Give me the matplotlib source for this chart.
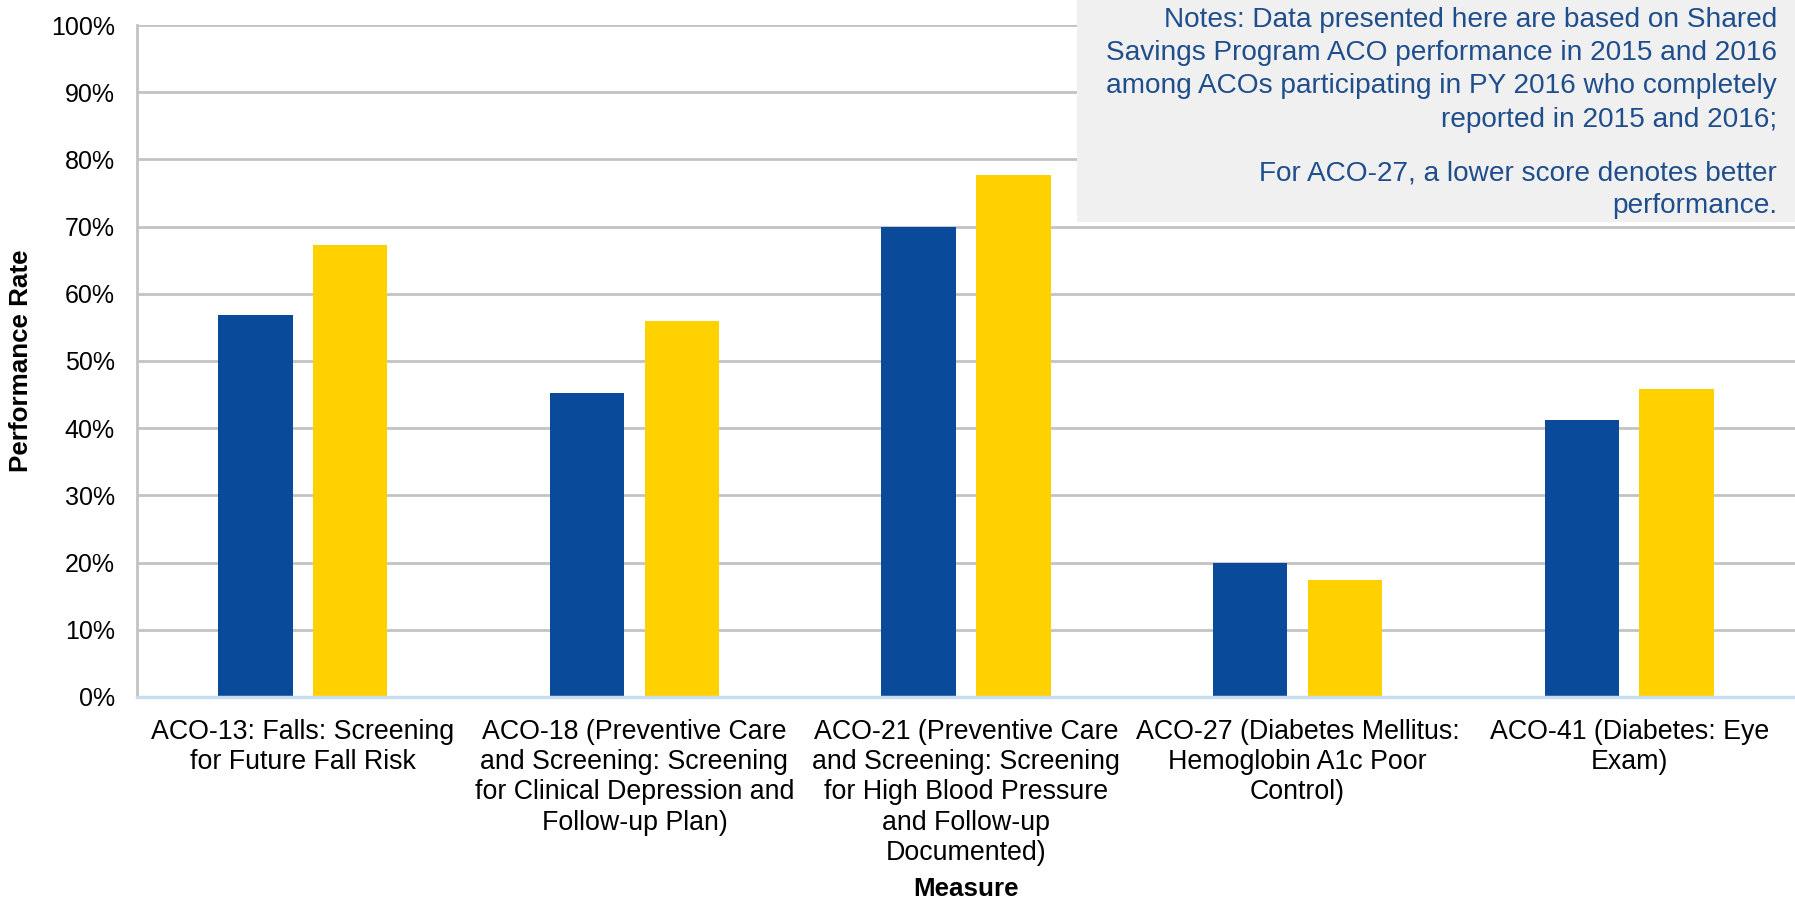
import matplotlib
matplotlib.use("Agg")
import matplotlib.pyplot as plt
import numpy as np
from matplotlib.patches import Rectangle

plt.rcParams['font.family'] = ['Liberation Sans', 'DejaVu Sans']

categories = [
    "ACO-13: Falls: Screening\nfor Future Fall Risk",
    "ACO-18 (Preventive Care\nand Screening: Screening\nfor Clinical Depression and\nFollow-up Plan)",
    "ACO-21 (Preventive Care\nand Screening: Screening\nfor High Blood Pressure\nand Follow-up\nDocumented)",
    "ACO-27 (Diabetes Mellitus:\nHemoglobin A1c Poor\nControl)",
    "ACO-41 (Diabetes: Eye\nExam)",
]
series_names = ["2015", "2016"]
values_2015 = [56.9, 45.3, 70.0, 20.0, 41.2]
values_2016 = [67.3, 55.9, 77.7, 17.4, 45.8]
yticks = [0, 10, 20, 30, 40, 50, 60, 70, 80, 90, 100]
ytick_labels = [f"{t}%" for t in yticks]
notes_p1 = ("Notes: Data presented here are based on Shared\n"
            "Savings Program ACO performance in 2015 and 2016\n"
            "among ACOs participating in PY 2016 who completely\n"
            "reported in 2015 and 2016;")
notes_p2 = "For ACO-27, a lower score denotes better\nperformance."

W, H = 1795, 901
fig = plt.figure(figsize=(W / 100, H / 100), dpi=100)
ax = fig.add_axes([137 / W, (H - 697) / H, (1795 - 137) / W, (697 - 25) / H])

x = np.arange(len(categories))
bw = 0.224
off = 0.143
ax.bar(x - off, values_2015, width=bw, color="#0A4A9A", label=series_names[0], zorder=3)
ax.bar(x + off, values_2016, width=bw, color="#FFD100", label=series_names[1], zorder=3)

ax.set_xlim(-0.5, len(categories) - 0.5)
ax.set_ylim(0, 100)
ax.set_yticks(yticks)
ax.set_yticklabels(ytick_labels)
ax.set_xticks(x)
ax.set_xticklabels(categories, linespacing=1.22)
ax.tick_params(axis='y', length=0, pad=16, labelsize=18.0, labelcolor='#000000')
ax.tick_params(axis='x', length=0, pad=15.5, labelsize=19.3, labelcolor='#000000')
ax.yaxis.grid(True, color="#C3C3C3", linewidth=2, zorder=0)
ax.set_axisbelow(True)
for s in ['top', 'right']:
    ax.spines[s].set_visible(False)
ax.spines['left'].set_color("#C3C3C3")
ax.spines['left'].set_linewidth(2)
ax.spines['bottom'].set_color("#C9DDF0")
ax.spines['bottom'].set_linewidth(2.5)
ax.spines['bottom'].set_zorder(4)

ax.set_ylabel("Performance Rate", fontsize=18.7, fontweight='bold')
ax.yaxis.set_label_coords(-(137 - 33) / (1795 - 137), 0.5)
ax.set_xlabel("Measure", fontsize=18.7, fontweight='bold')
ax.xaxis.set_label_coords(0.5, -(877 - 697) / (697 - 25))

# notes box
fig.patches.append(Rectangle((1077 / W, (H - 222) / H), (W - 1077) / W, 222 / H,
                             transform=fig.transFigure, facecolor="#F0F0F0",
                             edgecolor='none', zorder=5))
fig.text(1777 / W, (H - 7) / H, notes_p1, ha='right', va='top', fontsize=20.2,
         color="#1F4E8C", linespacing=1.36, zorder=6)
fig.text(1777 / W, (H - 160) / H, notes_p2, ha='right', va='top', fontsize=20.2,
         color="#1F4E8C", linespacing=1.36, zorder=6)

fig.savefig("out.png", dpi=100)
